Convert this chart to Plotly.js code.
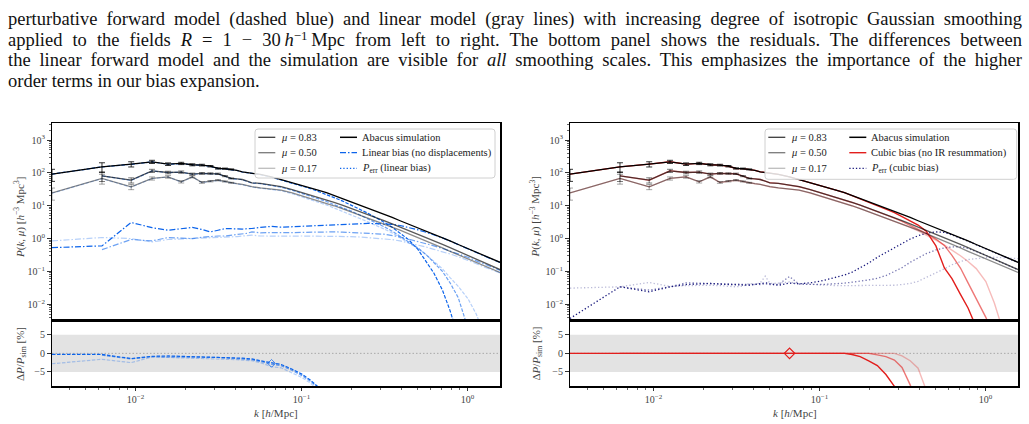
<!DOCTYPE html>
<html>
<head>
<meta charset="utf-8">
<script src="https://cdn.plot.ly/plotly-3.0.1.min.js"></script>
<style>
  body { margin: 0; background: #fff; }
  #wrap { position: relative; width: 1029px; height: 424px; overflow: hidden; background: #fff; }
  #chart { position: absolute; left: 0; top: 0; width: 1029px; height: 424px; }
  #caption { position: absolute; left: 8px; top: 9px; width: 1014px; pointer-events: none;
             font-family: 'Liberation Serif', 'DejaVu Serif', serif; font-size: 18.5px; line-height: 20.7px; color: #111; }
  #caption div { text-align: justify; text-align-last: justify; }
  #caption div.last { text-align-last: left; }
  #caption sup { font-size: 0.7em; line-height: 0; vertical-align: 0.45em; }
</style>
</head>
<body>
<div id="wrap">
  <div id="chart"></div>
  <div id="caption">
    <div>perturbative forward model (dashed blue) and linear model (gray lines) with increasing degree of isotropic Gaussian smoothing</div>
    <div>applied to the fields <i>R</i> = 1 &minus; 30&thinsp;<i>h</i><sup>&minus;1</sup>&thinsp;Mpc from left to right. The bottom panel shows the residuals. The differences between</div>
    <div>the linear forward model and the simulation are visible for <i>all</i> smoothing scales. This emphasizes the importance of the higher</div>
    <div class="last">order terms in our bias expansion.</div>
  </div>
</div>
<script>
// k bins [h/Mpc]
const kGrid = [0.00314,0.00628,0.00942,0.01257,0.01571,0.01885,0.02199,0.02513,0.02827,0.03142,0.03456,0.0377,0.04084,0.04398,0.04712,0.05027,
  0.05655,0.06597,0.0754,0.08796,0.1005,0.1131,0.1257,0.1414,0.1571,0.1759,0.1979,0.2231,0.2513,0.2827,
  0.3142,0.3519,0.3927,0.4398,0.5027,0.5655,0.6283,0.7069,0.7854,0.8796,1.0053,1.131,1.2566,1.4137,1.5708];

// Abacus simulation P(k, mu)
const sim083 = [92,153,185,218,185,195,177,173,160,137,135,128,120,108,104,97, 90,76,63,52,
  42,36,30,25,20.5,16.8,13.5,10.5,8.4,6.8, 5.5,4.4,3.5,2.8,2.15,1.7,1.35,1.07,0.85,0.66, 0.5,0.38,0.3,0.235,0.19];
const sim050 = [null,81.6,60,116,103,106,92,97,96,94,80,68,66,63,56,50, 48,43,38,31,
  25.5,21.5,18.2,15.2,12.6,10.4,8.4,6.6,5.3,4.3, 3.5,2.8,2.25,1.8,1.38,1.08,0.86,0.67,0.53,0.41, 0.31,0.235,0.182,0.142,0.114];
const sim017 = [24.7,68,37.7,68,76,53.6,76,51.3,56,60,55,50,47,44.7,41,38, 35,32,30,24.5,
  20,17.3,14.5,12,10,8.2,6.6,5.2,4.2,3.4, 2.8,2.25,1.8,1.42,1.08,0.84,0.67,0.52,0.41,0.32, 0.245,0.185,0.145,0.115,0.093];
// relative 1-sigma errors of the lowest k bins
const simErrFrac = [0.4,0.33,0.18,0.11,0.09,0.08,0.07,0.06,0.05,0.045,0.04,0.035];

// linear bias model (no displacements)
const linModel083 = [91.7,152.5,182.4,216.3,183.7,193.4,175.4,171.4,158.4,135.6,133.7,126.6,118.6,106.6,102.5,95.5, 88.2,74.0,61.1,49.8,
  39.6,33.4,27.4,22.3,17.7,14.1,10.8,7.9,5.9,4.35, 3.16,2.2,1.47,0.95,0.47,0.2,0.088,0.027,0.0064,0.001];
const linModel050 = [null,81.2,59.1,115,102.1,105,91.1,96,94.9,93,79,67.1,65.1,62.1,55.1,49.2, 47,41.8,36.7,29.6,
  24.0,19.9,16.5,13.5,10.8,8.9,7.0,5.3,4.0,3.05, 2.31,1.68,1.19,0.83,0.52,0.32,0.19,0.1,0.045,0.016, 0.0019];
const linModel017 = [24.0,66.9,36.8,67.3,75.2,53.0,75.1,50.6,55.3,59.2,54.2,49.2,46.2,43.9,40.2,37.2, 34.1,30.8,28.8,23.2,
  18.7,15.9,13.1,10.6,8.55,6.9,5.4,4.16,3.23,2.52, 1.96,1.49,1.08,0.77,0.5,0.32,0.2,0.12,0.065,0.035, 0.015,0.005,0.0012];
const linErr083 = [0.53,0.6,3.1,2.15,1.8,2.0,2.18,1.9,1.6,1.8,2.0,2.0,1.95,1.95,2.0,2.03, 2.2,2.35,2.22,2.3,
  2.45,2.5,2.56,2.6,2.7,2.8,2.85,2.9,2.9,2.85, 2.8,2.7,2.5,2.2,1.85,1.55,1.3,1.05,0.84,0.65, 0.49,0.375,0.295,0.232,0.188];
const linErr050 = [null,0.46,0.94,0.85,1.08,1.04,1.0,1.1,1.18,1.2,1.2,1.25,1.3,1.35,1.45,1.6, 1.5,1.52,1.5,1.52,
  1.55,1.58,1.6,1.6,1.6,1.58,1.55,1.5,1.45,1.4, 1.36,1.25,1.12,0.97,0.82,0.7,0.6,0.5,0.42,0.34, 0.27,0.21,0.167,0.132,0.108];
const linErr017 = [0.85,1.08,1.0,0.79,0.94,0.97,1.0,1.02,1.05,1.05,1.08,1.1,1.15,1.2,1.25,1.27, 1.2,1.18,1.18,1.19,
  1.2,1.2,1.2,1.2,1.2,1.18,1.15,1.12,1.08,1.04, 1.0,0.93,0.85,0.75,0.64,0.55,0.47,0.4,0.34,0.28, 0.22,0.172,0.137,0.11,0.09];
const linRes083 = [-0.3,-0.3,-1.4,-0.8,-0.7,-0.8,-0.9,-0.9,-1.0,-1.0,-1.0,-1.1,-1.2,-1.3,-1.4,-1.5, -2.0,-2.6,-3.0,-4.3, -5.6,-7.2,-8.8,-11,-13.5];
const linRes050 = [null,-0.5,-1.5,-0.9,-0.9,-0.9,-1.0,-1.0,-1.1,-1.1,-1.2,-1.3,-1.4,-1.5,-1.6,-1.7, -2.2,-2.9,-3.3,-4.6, -6.0,-7.5,-9.2,-11.5,-14];
const linRes017 = [-2.8,-1.6,-2.5,-1.0,-1.1,-1.2,-1.2,-1.3,-1.3,-1.4,-1.5,-1.6,-1.7,-1.8,-1.9,-2.0, -2.5,-3.6,-3.9,-5.2, -6.5,-8.0,-9.6,-12,-14.5];

// cubic bias model (no IR resummation)
const cubModel083 = [92,153,185,218,185,195,177,173,160,137,135,128,120,108,104,97, 90,76,63,52,
  42,36,30,25,20.4,16.6,13.2,10.1,7.9,6.2, 4.73,3.52,2.59,1.68,0.6,0.128,0.06,0.02,0.0077,0.002];
const cubModel050 = [null,81.6,60,116,103,106,92,97,96,94,80,68,66,63,56,50, 48,43,38,31,
  25.5,21.5,18.2,15.2,12.6,10.4,8.4,6.57,5.25,4.21, 3.36,2.56,1.94,1.44,0.97,0.62,0.31,0.127,0.045,0.0144, 0.004,0.00094];
const cubModel017 = [24.7,68,37.7,68,76,53.6,76,51.3,56,60,55,50,47,44.7,41,38, 35,32,30,24.5,
  20,17.3,14.5,12,10,8.2,6.6,5.2,4.2,3.4, 2.78,2.2,1.73,1.29,0.9,0.63,0.45,0.3,0.2,0.122, 0.049,0.011,0.002,0.00017];
const cubErr083 = [0.0037,0.034,0.024,0.034,0.04,0.042,0.043,0.041,0.04,0.04,0.039,0.038,0.04,0.043,0.045,0.042, 0.038,0.044,0.042,0.045,
  0.05,0.058,0.066,0.078,0.095,0.13,0.18,0.27,0.38,0.55, 0.73,0.97,1.22,1.45,1.6,1.55,1.3,1.05,0.84,0.65, 0.49,0.375,0.295,0.232,0.188];
const cubErr050 = [null,0.034,0.027,0.034,0.045,0.044,0.043,0.042,0.041,0.041,0.04,0.04,0.041,0.04,0.042,0.04, 0.04,0.07,0.041,0.04,
  0.04,0.041,0.042,0.044,0.047,0.05,0.055,0.062,0.075,0.1, 0.13,0.19,0.26,0.35,0.45,0.52,0.56,0.56,0.5,0.41, 0.31,0.235,0.182,0.142,0.114];
const cubErr017 = [0.031,0.034,0.046,0.035,0.037,0.038,0.038,0.037,0.035,0.034,0.036,0.043,0.04,0.045,0.072,0.043, 0.044,0.048,0.042,0.04,
  0.038,0.037,0.037,0.037,0.037,0.037,0.037,0.037,0.037,0.038, 0.04,0.043,0.05,0.065,0.09,0.12,0.16,0.2,0.23,0.25, 0.265,0.27,0.265,0.255,0.245];
const cubRes083 = [0,0,0,0,0,0,0,0,0,0,0,0,0,0,0,0, 0,0,0,0, 0,0,0,0,-0.3,-0.9,-2.0,-3.3,-5.7,-8.9, -14,-20];
const cubRes050 = [null,0,0,0,0,0,0,0,0,0,0,0,0,0,0,0, 0,0,0,0, 0,0,0,0,0,0,0,-0.4,-0.9,-1.8, -3.8,-8.5,-14,-20];
const cubRes017 = [0,0,0,0,0,0,0,0,0,0,0,0,0,0,0,0, 0,0,0,0, 0,0,0,0,0,0,0,0,0,0, -0.7,-2.0,-4.0,-9.0,-17];

// highlighted bin
const markK = [0.066];
const markLinRes = [-2.7];
const markCubRes = [0];

// tick labels
const xTickVals = [0.01, 0.1, 1];
const xTickText = ['10<sup>\u22122</sup>', '10<sup>\u22121</sup>', '10<sup>0</sup>'];
const yTickVals = [0.01, 0.1, 1, 10, 100, 1000];
const yTickText = ['10<sup>\u22122</sup>', '10<sup>\u22121</sup>', '10<sup>0</sup>', '10<sup>1</sup>', '10<sup>2</sup>', '10<sup>3</sup>'];
const resTickVals = [-5, 0, 5];
const resTickText = ['\u22125', '0', '5'];

const W = 1029, H = 424;
const SERIF = 'Liberation Serif, DejaVu Serif, serif';
const px = v => v / W;
const py = v => 1 - v / H;

const simColors = ['rgba(0,0,0,1)', 'rgba(0,0,0,0.65)', 'rgba(0,0,0,0.45)'];
const blue = a => `rgba(12,100,235,${a})`;
const red = a => `rgba(226,30,28,${a})`;
const navy = a => `rgba(25,25,125,${a})`;
const alphas = [1, 0.6, 0.3];

function kFor(arr) { return kGrid.slice(0, arr.length); }
function curve(xa, ya, arr, color, width, dash) {
  return { type: 'scatter', mode: 'lines', x: kFor(arr), y: arr, xaxis: xa, yaxis: ya,
           line: { color: color, width: width, dash: dash || 'solid' }, hoverinfo: 'skip', showlegend: false };
}
function simCurve(xa, ya, arr, color) {
  const t = curve(xa, ya, arr, color, 1.3);
  const err = simErrFrac.map((f, i) => arr[i] == null ? null : f * arr[i]);
  t.error_y = { type: 'data', array: err, visible: true, color: color, thickness: 0.8, width: 3 };
  return t;
}

const traces = [];
// ---- left: linear bias ----
[linErr017, linErr050, linErr083].forEach((a, j) => traces.push(curve('x', 'y', a, blue(alphas[2 - j]), 1.2, '6px,2px,1.5px,2px')));
[linModel017, linModel050, linModel083].forEach((a, j) => traces.push(curve('x', 'y', a, blue(alphas[2 - j]), 1.2, '3.5px,1.5px')));
[sim017, sim050, sim083].forEach((a, j) => traces.push(simCurve('x', 'y', a, simColors[2 - j])));
[linRes017, linRes050, linRes083].forEach((a, j) => traces.push(curve('x2', 'y2', a, blue(alphas[2 - j]), 1.2, '3.5px,1.5px')));
traces.push({ type: 'scatter', mode: 'markers', x: markK, y: markLinRes, xaxis: 'x2', yaxis: 'y2', hoverinfo: 'skip', showlegend: false,
  marker: { symbol: 'diamond-open', size: 6, color: blue(0.7), line: { width: 1 } } });
// ---- right: cubic bias ----
[cubErr017, cubErr050, cubErr083].forEach((a, j) => traces.push(curve('x3', 'y3', a, navy(alphas[2 - j]), 1.3, '1.3px,2.2px')));
[cubModel017, cubModel050, cubModel083].forEach((a, j) => traces.push(curve('x3', 'y3', a, red(alphas[2 - j]), 1.4)));
[sim017, sim050, sim083].forEach((a, j) => traces.push(simCurve('x3', 'y3', a, simColors[2 - j])));
[cubRes017, cubRes050, cubRes083].forEach((a, j) => traces.push(curve('x4', 'y4', a, red(alphas[2 - j]), 1.4)));
traces.push({ type: 'scatter', mode: 'markers', x: markK, y: markCubRes, xaxis: 'x4', yaxis: 'y4', hoverinfo: 'skip', showlegend: false,
  marker: { symbol: 'diamond-open', size: 8, color: red(1), line: { width: 1.2 } } });

// minor tick positions
const minorX = [], minorY = [];
for (let e = -3; e <= 0; e++) for (let m = 2; m <= 9; m++) minorX.push(m * Math.pow(10, e));
for (let e = -3; e <= 3; e++) for (let m = 2; m <= 9; m++) minorY.push(m * Math.pow(10, e));

const tickFont = { family: SERIF, size: 10, color: '#444' };
const xDomL = [px(52), px(500)], xDomR = [px(570), px(1018)];
const yDomMain = [py(320.7), py(123)], yDomRes = [py(386), py(320.7)];
const xRange = [Math.log10(0.00314), 0.196];

function xAxis(domain, anchor, labels) {
  const ax = { type: 'log', domain: domain, anchor: anchor, range: xRange, showline: true, linecolor: '#000', linewidth: 1.5,
    mirror: true, showgrid: false, zeroline: false, tickmode: 'array', tickvals: xTickVals, ticktext: xTickText,
    showticklabels: labels, ticks: labels ? 'outside' : '', ticklen: 3.5, tickwidth: 0.8, tickcolor: '#000',
    tickfont: tickFont, fixedrange: true };
  if (labels) ax.minor = { tickmode: 'array', tickvals: minorX, ticks: 'outside', ticklen: 2, tickwidth: 0.6, tickcolor: '#000', showgrid: false };
  return ax;
}
function yMain(anchor) {
  return { type: 'log', domain: yDomMain, anchor: anchor, range: [-2.5, 3.52], showline: true, linecolor: '#000', linewidth: 1.5,
    mirror: true, showgrid: false, zeroline: false, tickmode: 'array', tickvals: yTickVals, ticktext: yTickText,
    ticks: 'outside', ticklen: 3.5, tickwidth: 0.8, tickcolor: '#000', tickfont: tickFont, fixedrange: true,
    minor: { tickmode: 'array', tickvals: minorY, ticks: 'outside', ticklen: 2, tickwidth: 0.6, tickcolor: '#000', showgrid: false } };
}
function yRes(anchor) {
  return { type: 'linear', domain: yDomRes, anchor: anchor, range: [-8.8, 8.8], showline: true, linecolor: '#000', linewidth: 1.5,
    mirror: true, showgrid: false, zeroline: false, tickmode: 'array', tickvals: resTickVals, ticktext: resTickText,
    ticks: 'outside', ticklen: 3.5, tickwidth: 0.8, tickcolor: '#000', tickfont: tickFont, fixedrange: true };
}

// residual band and zero line
const shapes = [];
[['x2', 'y2'], ['x4', 'y4']].forEach(([xa, ya]) => {
  shapes.push({ type: 'rect', xref: xa + ' domain', x0: 0, x1: 1, yref: ya, y0: -5, y1: 5, fillcolor: '#e3e3e3', line: { width: 0 }, layer: 'below' });
  shapes.push({ type: 'line', xref: xa + ' domain', x0: 0, x1: 1, yref: ya, y0: 0, y1: 0, line: { color: '#a8a8a8', width: 1, dash: '1.5px,2px' }, layer: 'below' });
});

// legend boxes
function roundRect(x0, y0, x1, y1, r) {
  const P = (x, y) => `${px(x)},${py(y)}`;
  return `M${P(x0 + r, y0)} L${P(x1 - r, y0)} Q${P(x1, y0)} ${P(x1, y0 + r)} L${P(x1, y1 - r)} Q${P(x1, y1)} ${P(x1 - r, y1)} ` +
         `L${P(x0 + r, y1)} Q${P(x0, y1)} ${P(x0, y1 - r)} L${P(x0, y0 + r)} Q${P(x0, y0)} ${P(x0 + r, y0)} Z`;
}
const annotations = [];
const legRows = [137.3, 152.7, 168.3];
const muLabels = ['<i>\u03bc</i> = 0.83', '<i>\u03bc</i> = 0.50', '<i>\u03bc</i> = 0.17'];
const muColors = ['#3c3c3c', '#7a7a7a', '#bdbdbd'];
const legFont = { family: SERIF, size: 10.5, color: '#222' };
function legend(box, c1, c2, entries) {
  shapes.push({ type: 'path', xref: 'paper', yref: 'paper', path: roundRect(box[0], box[1], box[2], box[3], 3),
                fillcolor: 'rgba(255,255,255,0.85)', line: { color: '#d0d0d0', width: 1 }, layer: 'above' });
  legRows.forEach((yy, i) => {
    shapes.push({ type: 'line', xref: 'paper', yref: 'paper', x0: px(c1), x1: px(c1 + 17), y0: py(yy), y1: py(yy),
                  line: { color: muColors[i], width: 1.3 }, layer: 'above' });
    annotations.push({ xref: 'paper', yref: 'paper', x: px(c1 + 21), y: py(yy), xanchor: 'left', yanchor: 'middle', showarrow: false,
                       text: muLabels[i], font: legFont });
    const e = entries[i];
    shapes.push({ type: 'line', xref: 'paper', yref: 'paper', x0: px(c2), x1: px(c2 + 17), y0: py(yy), y1: py(yy),
                  line: { color: e.color, width: e.width, dash: e.dash }, layer: 'above' });
    annotations.push({ xref: 'paper', yref: 'paper', x: px(c2 + 20), y: py(yy), xanchor: 'left', yanchor: 'middle', showarrow: false,
                       text: e.text, font: legFont });
  });
}
legend([255, 129, 495, 178], 258.3, 340, [
  { text: 'Abacus simulation', color: '#000', width: 1.5, dash: 'solid' },
  { text: 'Linear bias (no displacements)', color: blue(1), width: 1.3, dash: '6px,2px,1.5px,2px' },
  { text: '<i>P</i><sub>err</sub> (linear bias)', color: blue(1), width: 1.3, dash: '1.3px,2px' }
]);
legend([765, 129, 1016.7, 179.3], 768.3, 849.3, [
  { text: 'Abacus simulation', color: '#000', width: 1.5, dash: 'solid' },
  { text: 'Cubic bias (no IR resummation)', color: red(1), width: 1.4, dash: 'solid' },
  { text: '<i>P</i><sub>err</sub> (cubic bias)', color: navy(1), width: 1.3, dash: '1.3px,2px' }
]);

// axis titles
const titleFont = { family: SERIF, size: 11, color: '#444' };
const yMainTitle = '<i>P</i>(<i>k</i>, <i>\u03bc</i>) [<i>h</i><sup>\u22123</sup> Mpc<sup>3</sup>]';
const yResTitle = '\u0394<i>P</i>/<i>P</i><sub>sim</sub> [%]';
const xTitle = '<i>k</i> [<i>h</i>/Mpc]';
[[19, 276], [534.5, 795]].forEach(([yx, xx]) => {
  annotations.push({ xref: 'paper', yref: 'paper', x: px(yx), y: py(217), textangle: -90, showarrow: false,
                     xanchor: 'center', yanchor: 'middle', text: yMainTitle, font: titleFont });
  annotations.push({ xref: 'paper', yref: 'paper', x: px(yx + 2), y: py(354), textangle: -90, showarrow: false,
                     xanchor: 'center', yanchor: 'middle', text: yResTitle, font: titleFont });
  annotations.push({ xref: 'paper', yref: 'paper', x: px(xx), y: py(413), showarrow: false,
                     xanchor: 'center', yanchor: 'middle', text: xTitle, font: titleFont });
});

const layout = {
  width: W, height: H, margin: { l: 0, r: 0, t: 0, b: 0 }, paper_bgcolor: '#fff', plot_bgcolor: '#fff',
  showlegend: false, font: { family: SERIF, size: 10, color: '#444' },
  xaxis: xAxis(xDomL, 'y', false), yaxis: yMain('x'),
  xaxis2: xAxis(xDomL, 'y2', true), yaxis2: yRes('x2'),
  xaxis3: xAxis(xDomR, 'y3', false), yaxis3: yMain('x3'),
  xaxis4: xAxis(xDomR, 'y4', true), yaxis4: yRes('x4'),
  shapes: shapes, annotations: annotations
};
Plotly.newPlot('chart', traces, layout, { staticPlot: true, displayModeBar: false });
</script>
</body>
</html>
